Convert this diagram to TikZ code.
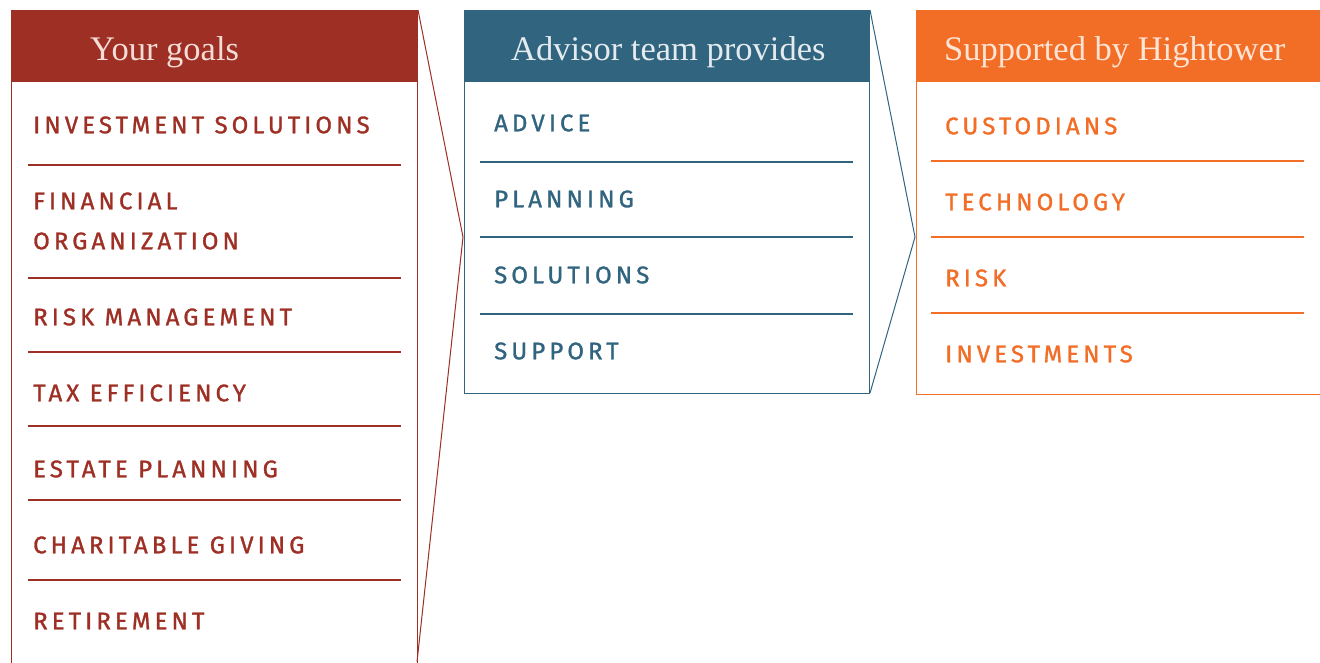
\documentclass[tikz,border=0pt]{standalone}
\usepackage{fontspec}
\setmainfont{Liberation Serif}
\newfontfamily\itemfont[LetterSpace=17,FakeBold=1.2]{Fira Sans}
\definecolor{cred}{HTML}{9E2F24}
\definecolor{cblue}{HTML}{31647F}
\definecolor{corange}{HTML}{F26D26}
\definecolor{tred}{HTML}{F4DDD6}
\definecolor{tblue}{HTML}{E3EBEF}
\definecolor{torange}{HTML}{FDE4D4}
\begin{document}
\begin{tikzpicture}[x=1pt,y=-1pt,
  headtext/.style={anchor=base west, inner sep=0pt, font=\fontsize{34.5}{40}\selectfont},
  itemtext/.style={anchor=west, inner sep=0pt, font=\itemfont\fontsize{24}{28}\selectfont},
  sepline/.style={line width=1.1pt},
  frame/.style={line width=1pt},
  link/.style={line width=1pt}]
\useasboundingbox (0,0) rectangle (1320,662);
\fill[white] (0,0) rectangle (1320,662);

% ---------- red column ----------
\draw[frame, cred] (11.5,10) rectangle (417.5,700);
\fill[cred] (11,10) rectangle (418,82);
\node[headtext, text=tred] (hred) at (90,60) {Your goals};
\begin{scope}[every node/.style={itemtext, text=cred}]
\node (r1) at (33,125) {INVESTMENT SOLUTIONS};
\node (r2a) at (33,201) {FINANCIAL};
\node (r2b) at (33,241) {ORGANIZATION};
\node (r3) at (33,317) {RISK MANAGEMENT};
\node (r4) at (33,393) {TAX EFFICIENCY};
\node (r5) at (33,469) {ESTATE PLANNING};
\node (r6) at (33,545) {CHARITABLE GIVING};
\node (r7) at (33,621) {RETIREMENT};
\end{scope}
\foreach \y in {165,278,352,426,500,580}
  \draw[sepline, cred] (28,\y) -- (401,\y);

% ---------- blue column ----------
\draw[frame, cblue] (464.5,10) rectangle (869.5,393);
\fill[cblue] (464,10) rectangle (870,82);
\node[headtext, text=tblue] (hblue) at (511,60) {Advisor team provides};
\begin{scope}[every node/.style={itemtext, text=cblue}]
\node (b1) at (494,123) {ADVICE};
\node (b2) at (494,199) {PLANNING};
\node (b3) at (494,275) {SOLUTIONS};
\node (b4) at (494,351) {SUPPORT};
\end{scope}
\foreach \y in {162,237,314}
  \draw[sepline, cblue] (480,\y) -- (853,\y);

% ---------- orange column ----------
\draw[frame, corange] (916.5,10) rectangle (1330,394);
\fill[corange] (916,10) rectangle (1330,82);
\node[headtext, text=torange] (horange) at (944,60) {Supported by Hightower};
\begin{scope}[every node/.style={itemtext, text=corange}]
\node (o1) at (945,126) {CUSTODIANS};
\node (o2) at (945,202) {TECHNOLOGY};
\node (o3) at (945,278) {RISK};
\node (o4) at (945,354) {INVESTMENTS};
\end{scope}
\foreach \y in {161,237,313}
  \draw[sepline, corange] (931,\y) -- (1304,\y);

% ---------- connectors ----------
\coordinate (ra) at (418,10);
\coordinate (rt) at (463,237);
\coordinate (rb) at (417,662);
\draw[link, cred, line join=miter] (ra) -- (rt) -- (rb);
\coordinate (ba) at (870,10);
\coordinate (bt) at (915,237);
\coordinate (bb) at (870,393);
\draw[link, cblue, line join=miter] (ba) -- (bt) -- (bb);
\end{tikzpicture}
\end{document}
